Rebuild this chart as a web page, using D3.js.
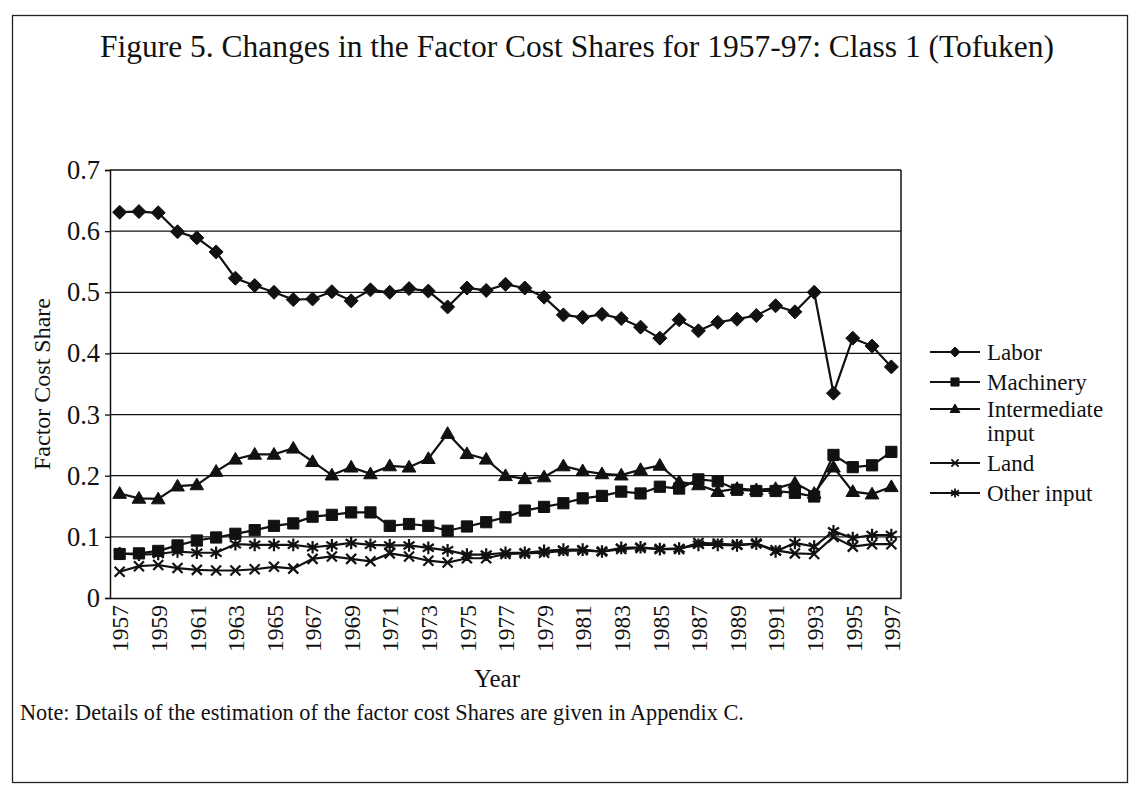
<!DOCTYPE html>
<html><head><meta charset="utf-8">
<script src="https://cdn.jsdelivr.net/npm/d3@7"></script>
<style>
html,body{margin:0;padding:0;background:#fff;}
svg{display:block;font-family:"Liberation Serif","Times New Roman",serif;}
</style></head>
<body>
<svg id="chart" width="1139" height="787"></svg>
<script>
const years = [1957,1958,1959,1960,1961,1962,1963,1964,1965,1966,1967,1968,1969,1970,1971,1972,1973,1974,1975,1976,1977,1978,1979,1980,1981,1982,1983,1984,1985,1986,1987,1988,1989,1990,1991,1992,1993,1994,1995,1996,1997];
const yTicks = [0,0.1,0.2,0.3,0.4,0.5,0.6,0.7];
const labor = [0.631,0.632,0.630,0.599,0.589,0.566,0.523,0.511,0.500,0.488,0.489,0.501,0.486,
  0.504,0.500,0.506,0.502,0.476,0.507,0.503,0.513,0.507,0.492,
  0.463,0.459,0.464,0.457,0.443,0.425,0.455,0.437,0.451,0.456,
  0.462,0.478,0.468,0.500,0.335,0.425,0.412,0.378];
const machinery = [0.072,0.073,0.077,0.086,0.094,0.099,0.105,0.111,0.118,0.122,0.133,0.136,0.140,
  0.140,0.118,0.121,0.118,0.110,0.117,0.124,0.132,0.143,0.149,
  0.155,0.163,0.167,0.174,0.171,0.182,0.179,0.194,0.191,0.177,
  0.175,0.175,0.172,0.166,0.234,0.214,0.217,0.239];
const intermediate = [0.171,0.163,0.162,0.183,0.185,0.207,0.227,0.235,0.235,0.245,0.223,0.201,0.214,
  0.203,0.216,0.214,0.228,0.269,0.236,0.227,0.200,0.195,0.198,
  0.216,0.208,0.203,0.201,0.210,0.217,0.190,0.185,0.174,0.179,
  0.177,0.179,0.188,0.171,0.214,0.174,0.170,0.182];
const land = [0.043,0.052,0.054,0.049,0.046,0.045,0.045,0.047,0.051,0.048,0.064,0.068,0.064,
  0.060,0.073,0.068,0.061,0.058,0.065,0.065,0.072,0.073,0.074,
  0.077,0.078,0.076,0.080,0.082,0.080,0.080,0.090,0.089,0.087,
  0.089,0.078,0.073,0.072,0.100,0.084,0.088,0.088];
const other = [0.073,0.071,0.072,0.076,0.074,0.074,0.088,0.087,0.087,0.087,0.083,0.086,0.090,
  0.087,0.086,0.086,0.082,0.078,0.071,0.071,0.074,0.074,0.077,
  0.079,0.079,0.076,0.082,0.083,0.080,0.081,0.087,0.087,0.086,
  0.089,0.076,0.090,0.084,0.109,0.098,0.103,0.103];
const seriesNames = ["Labor","Machinery","Intermediate input","Land","Other input"];
const seriesValues = [labor, machinery, intermediate, land, other];
const markerKinds = ["diamond","square","triangle","x","asterisk"];

const svg = d3.select("#chart");
const L = 110, R = 901, T = 170, B = 598;

// outer frame
svg.append("rect").attr("x",12.5).attr("y",15.5).attr("width",1115).attr("height",767)
  .attr("fill","none").attr("stroke","#222").attr("stroke-width",1.3);

svg.append("text").attr("x",577).attr("y",57).attr("text-anchor","middle")
  .attr("font-size",31.5).attr("fill","#111")
  .text("Figure 5. Changes in the Factor Cost Shares for 1957-97: Class 1 (Tofuken)");

const x = d3.scalePoint().domain(years).range([L,R]).padding(0.5);
const y = d3.scaleLinear().domain([0,0.7]).range([B,T]);

// gridlines
svg.append("g").selectAll("line").data(yTicks.filter(d=>d>0)).join("line")
  .attr("x1",L).attr("x2",R).attr("y1",d=>y(d)).attr("y2",d=>y(d))
  .attr("stroke","#111").attr("stroke-width",1.3);

// y axis
const yAxis = svg.append("g").attr("transform",`translate(${L},0)`)
  .call(d3.axisLeft(y).tickValues(yTicks).tickFormat(d=>d===0?"0":d3.format(".1f")(d)).tickSize(5).tickPadding(5));
yAxis.select(".domain").attr("stroke","#111").attr("stroke-width",1.5);
yAxis.selectAll(".tick line").attr("stroke","#111").attr("stroke-width",1.3);
yAxis.selectAll("text").attr("font-size",26.5).attr("font-family","Liberation Serif, serif").attr("fill","#111");

// x axis
const xAxis = svg.append("g").attr("transform",`translate(0,${B})`)
  .call(d3.axisBottom(x).tickValues(years.filter((d,i)=>i%2===0)).tickSize(0).tickPadding(0));
xAxis.select(".domain").attr("stroke","#111").attr("stroke-width",1.5);
xAxis.selectAll("text").attr("font-size",23.5).attr("font-family","Liberation Serif, serif").attr("fill","#111")
  .attr("transform","rotate(-90)").attr("text-anchor","end").attr("dy","0.35em").attr("x",-7).attr("y",0);

// right border
svg.append("line").attr("x1",R).attr("x2",R).attr("y1",T).attr("y2",B).attr("stroke","#111").attr("stroke-width",1.5);

svg.append("text").attr("x",497).attr("y",687).attr("text-anchor","middle").attr("font-size",25).attr("fill","#111").text("Year");
svg.append("text").attr("transform",`translate(50,${(T+B)/2}) rotate(-90)`).attr("text-anchor","middle")
  .attr("font-size",24).attr("fill","#111").text("Factor Cost Share");

svg.append("text").attr("x",20).attr("y",720).attr("font-size",22.3).attr("fill","#111")
  .text("Note: Details of the estimation of the factor cost Shares are given in Appendix C.");

function markerPath(kind, s){
  switch(kind){
    case "diamond": return `M0,${-s}L${s},0L0,${s}L${-s},0Z`;
    case "square": return `M${-s},${-s}H${s}V${s}H${-s}Z`;
    case "triangle": return `M0,${-s*1.05}L${s*1.05},${s*0.75}L${-s*1.05},${s*0.75}Z`;
    case "x": return `M${-s},${-s}L${s},${s}M${-s},${s}L${s},${-s}`;
    case "asterisk": return `M0,${-s*1.15}V${s*1.15}M${-s},${-s*0.7}L${s},${s*0.7}M${-s},${s*0.7}L${s},${-s*0.7}`;
  }
}
const sizes = {diamond:7, square:5.6, triangle:6.5, x:5, asterisk:5.5};
const filled = k => k==="diamond"||k==="square"||k==="triangle";

const line = d3.line().x((d,i)=>x(years[i])).y(d=>y(d));
seriesValues.forEach((vals,si)=>{
  const k = markerKinds[si];
  const g = svg.append("g");
  g.append("path").datum(vals).attr("d",line).attr("fill","none").attr("stroke","#111").attr("stroke-width",2.2);
  g.selectAll("path.m").data(vals).join("path").attr("class","m")
    .attr("transform",(d,i)=>`translate(${x(years[i])},${y(d)})`)
    .attr("d",markerPath(k,sizes[k]))
    .attr("fill",filled(k)?"#111":"none").attr("stroke","#111").attr("stroke-width",filled(k)?1:2.2);
});

// legend
const legRows = [352,382,409,463,493];
const leg = svg.append("g");
seriesNames.forEach((name,i)=>{
  const k = markerKinds[i], yy = legRows[i];
  leg.append("line").attr("x1",930).attr("x2",980).attr("y1",yy).attr("y2",yy).attr("stroke","#111").attr("stroke-width",2);
  leg.append("path").attr("transform",`translate(955,${yy})`).attr("d",markerPath(k,sizes[k]*0.72))
    .attr("fill",filled(k)?"#111":"none").attr("stroke","#111").attr("stroke-width",filled(k)?1:1.8);
  const parts = name==="Intermediate input" ? ["Intermediate","input"] : [name];
  parts.forEach((p,j)=>leg.append("text").attr("x",987).attr("y",yy + j*24).attr("dy","0.33em")
    .attr("font-size",23).attr("fill","#111").text(p));
});
</script>
</body></html>
